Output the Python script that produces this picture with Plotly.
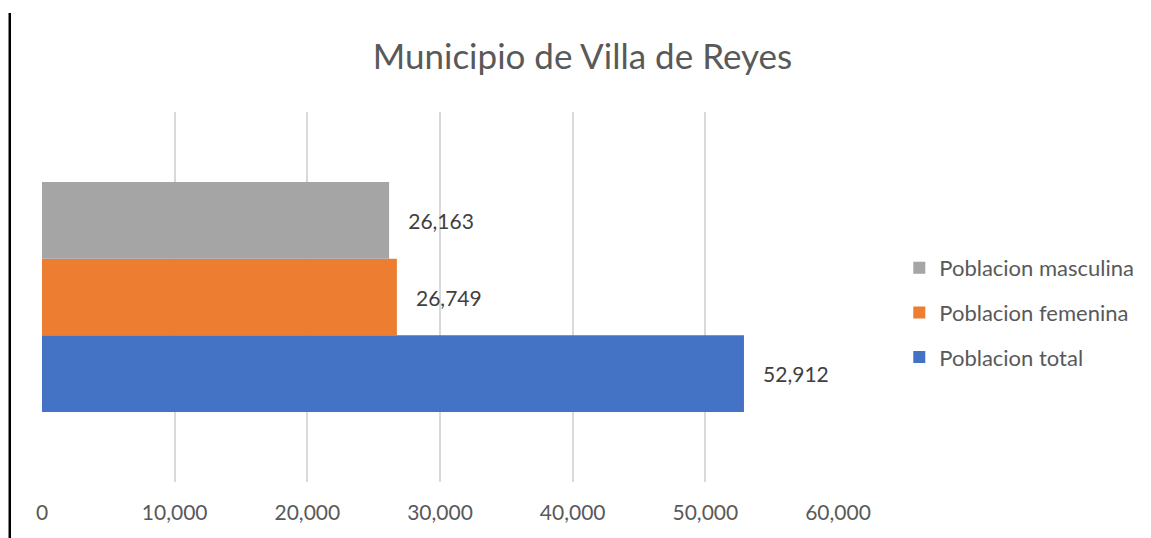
import plotly.graph_objects as go

category = ["Villa de Reyes"]
series_names = ["Poblacion total", "Poblacion femenina", "Poblacion masculina"]
series_values = [[52912], [26749], [26163]]
series_colors = ["#4472C4", "#ED7D31", "#A5A5A5"]
legend_ranks = [3, 2, 1]
x_ticks = [0, 10000, 20000, 30000, 40000, 50000, 60000]

FONT = "Lato, 'Open Sans', sans-serif"

fig = go.Figure()
for i, (name, vals, col, rank) in enumerate(zip(series_names, series_values, series_colors, legend_ranks)):
    fig.add_trace(go.Bar(
        y=category, x=vals, name=name, orientation="h",
        marker=dict(color=col, line=dict(width=0)),
        texttemplate="\u00a0\u00a0\u00a0%{x:,}",
        textposition="outside", constraintext="none", cliponaxis=False,
        textfont=dict(family=FONT, size=21, color="#404040"),
        legendgroup=f"g{i}", legendrank=rank, hoverinfo="skip",
    ))

fig.update_layout(
    width=1143, height=530,
    margin=dict(l=34, r=313, t=104, b=56),
    paper_bgcolor="white", plot_bgcolor="white",
    barmode="group", bargap=0.378, bargroupgap=0,
    title=dict(text="Municipio de Villa de Reyes", x=0.5026, xanchor="center",
               y=1 - 49 / 530, yanchor="middle",
               font=dict(family=FONT, size=35, color="#595959")),
    font=dict(family=FONT, color="#595959"),
    legend=dict(x=1.077, xanchor="left", y=0.458, yanchor="middle",
                traceorder="grouped", tracegroupgap=13,
                font=dict(family=FONT, size=22, color="#595959"),
                bgcolor="rgba(0,0,0,0)"),
    xaxis=dict(range=[0, 60000], tickvals=x_ticks, tickformat=",",
               showgrid=True, gridcolor="#d9d9d9", gridwidth=1.5,
               zeroline=False, showline=False, ticks="",
               ticklabelstandoff=16,
               tickfont=dict(family=FONT, size=21, color="#595959")),
    yaxis=dict(showticklabels=False, showgrid=False, zeroline=False,
               showline=False, ticks=""),
    shapes=[dict(type="line", xref="paper", yref="paper",
                 x0=-0.0405, x1=-0.0405, y0=1.2676, y1=-0.16,
                 line=dict(color="black", width=2.5))],
)

fig.write_html("out.html")
